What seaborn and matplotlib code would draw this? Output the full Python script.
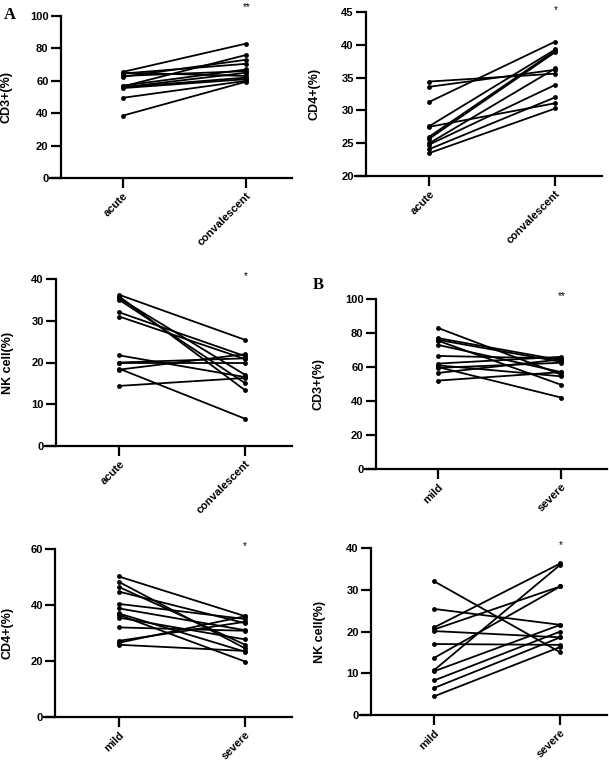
import matplotlib.pyplot as plt
import pandas as pd
import seaborn as sns

W, H = 609, 768

ACUTE_CONV = ["acute", "convalescent"]
MILD_SEVERE = ["mild", "severe"]

# A: acute vs convalescent
cd3_acute = [65.5, 64.5, 65.0, 62.5, 56.5, 57.0, 56.0, 56.0, 55.5, 49.5, 38.5, 63.0]
cd3_conv = [83.0, 70.5, 63.0, 73.0, 76.0, 67.0, 65.0, 62.0, 61.0, 60.0, 59.5, 66.0]

cd4_acute = [34.4, 33.6, 31.3, 27.6, 27.5, 26.0, 25.7, 25.0, 24.8, 24.1, 23.5]
cd4_conv = [35.6, 36.2, 40.5, 39.3, 31.1, 39.1, 38.9, 36.4, 33.9, 32.0, 30.3]

nk_acute = [36.2, 35.8, 35.4, 35.0, 32.0, 31.0, 21.7, 20.0, 20.0, 18.5, 18.3, 14.4]
nk_conv = [25.4, 13.3, 17.0, 15.0, 21.5, 20.8, 16.5, 20.0, 21.0, 6.5, 22.0, 16.3]

# B: mild vs severe
cd3_mild = [83.0, 77.0, 76.0, 75.5, 73.0, 66.5, 62.0, 61.0, 60.0, 59.5, 56.5, 52.0]
cd3_severe = [55.5, 64.0, 63.0, 49.5, 57.0, 65.0, 66.0, 54.5, 42.0, 62.5, 64.5, 57.0]

cd4_mild = [50.2, 48.3, 46.5, 44.8, 40.4, 38.8, 37.0, 36.5, 35.5, 32.0, 27.2, 26.5, 25.8]
cd4_severe = [36.0, 24.5, 25.8, 33.5, 35.0, 31.0, 23.3, 19.8, 27.7, 30.8, 34.0, 36.0, 23.6]

nk_mild = [32.0, 25.4, 21.0, 20.5, 20.1, 17.0, 13.7, 10.8, 10.5, 8.3, 6.5, 4.5]
nk_severe = [15.0, 21.6, 36.3, 30.8, 18.6, 16.8, 30.8, 36.0, 21.6, 20.0, 18.6, 16.3]

yticks_cd3 = [0, 20, 40, 60, 80, 100]
yticks_cd4_a = [20, 25, 30, 35, 40, 45]
yticks_nk = [0, 10, 20, 30, 40]
yticks_cd4_b = [0, 20, 40, 60]


def px_rect(left, top, right, bottom):
    return [left / W, 1 - bottom / H, (right - left) / W, (bottom - top) / H]


def paired_frame(before, after, groups):
    n = len(before)
    return pd.DataFrame({
        "subject": list(range(n)) * 2,
        "group": [groups[0]] * n + [groups[1]] * n,
        "value": list(before) + list(after),
    })


def draw_paired(ax, before, after, groups, ylabel, yticks, stars, label_x, star_off=0):
    df = paired_frame(before, after, groups)
    sns.lineplot(data=df, x="group", y="value", units="subject", estimator=None,
                 color="black", linewidth=1.3, marker="o", markersize=3.5,
                 markeredgewidth=0, ax=ax)
    ax.set_xlim(-0.59, 1.37)
    ax.set_ylim(yticks[0], yticks[-1])

    ax.spines["left"].set_position(("data", -0.5))
    ax.spines["top"].set_visible(False)
    ax.spines["right"].set_visible(False)
    for s in ("left", "bottom"):
        ax.spines[s].set_linewidth(1.6)
        ax.spines[s].set_color("black")
    ax.tick_params(axis="both", direction="out", length=7, width=1.6,
                   colors="black", pad=2, labelsize=8)

    ax.set_xticks([0, 1])
    ax.set_xticklabels(groups, rotation=45, ha="right", rotation_mode="anchor",
                       fontsize=8, fontweight="bold")
    ax.set_yticks(yticks)
    ax.set_yticklabels([str(v) for v in yticks], fontsize=8, fontweight="bold")

    ax.set_xlabel("")
    ax.set_ylabel(ylabel, fontsize=9, fontweight="bold", color="black")
    ax.yaxis.set_label_coords(label_x, 0.5)
    ax.annotate(stars, xy=(1, yticks[-1]), xytext=(0, star_off),
                textcoords="offset points", ha="center", va="baseline",
                fontsize=7, color="black")


sns.set_theme(style="ticks")
plt.rcParams["font.family"] = ["Liberation Sans", "DejaVu Sans"]
plt.rcParams["text.color"] = "black"

fig = plt.figure(figsize=(W / 100, H / 100), dpi=100)

ax1 = fig.add_axes(px_rect(50, 16, 292, 178))
draw_paired(ax1, cd3_acute, cd3_conv, ACUTE_CONV, "CD3+(%)", yticks_cd3, "**",
            -0.153, star_off=4)

ax2 = fig.add_axes(px_rect(355, 12, 602, 176))
draw_paired(ax2, cd4_acute, cd4_conv, ACUTE_CONV, "CD4+(%)", yticks_cd4_a, "*",
            -0.138, star_off=-1)

ax3 = fig.add_axes(px_rect(45, 279, 292, 446))
draw_paired(ax3, nk_acute, nk_conv, ACUTE_CONV, "NK cell(%)", yticks_nk, "*", -0.126)

ax4 = fig.add_axes(px_rect(365, 299, 607, 469))
draw_paired(ax4, cd3_mild, cd3_severe, MILD_SEVERE, "CD3+(%)", yticks_cd3, "**", -0.169)

ax5 = fig.add_axes(px_rect(44, 549, 292, 717))
draw_paired(ax5, cd4_mild, cd4_severe, MILD_SEVERE, "CD4+(%)", yticks_cd4_b, "*", -0.121)

ax6 = fig.add_axes(px_rect(360, 548, 607, 715))
draw_paired(ax6, nk_mild, nk_severe, MILD_SEVERE, "NK cell(%)", yticks_nk, "*", -0.138)

fig.text(10 / W, 1 - 15 / H, "A", family="Liberation Serif", fontweight="bold",
         fontsize=12, ha="center", va="center")
fig.text(318 / W, 1 - 285 / H, "B", family="Liberation Serif", fontweight="bold",
         fontsize=12, ha="center", va="center")

fig.savefig("out.png", dpi=100, facecolor="white")
